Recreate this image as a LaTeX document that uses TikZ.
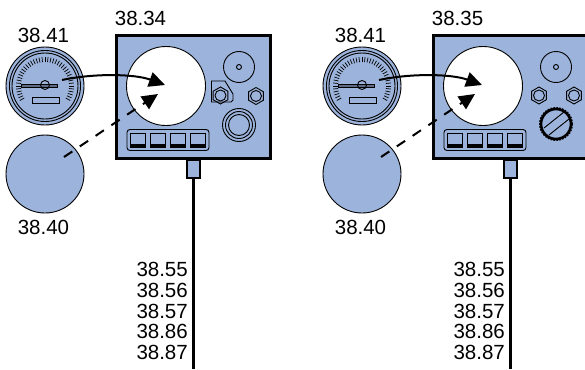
\documentclass[tikz,border=0pt]{standalone}
\usepackage{fontspec}
\setmainfont{Liberation Sans}
\usetikzlibrary{arrows.meta,shapes.geometric}
\definecolor{panelblue}{HTML}{9CB3DB}
\tikzset{
  disc/.style={draw, circle, fill=panelblue, line width=.9pt, inner sep=0pt, minimum size=#1},
  ring/.style={draw, circle, line width=.9pt, inner sep=0pt, minimum size=#1},
  nut/.style={draw, regular polygon, regular polygon sides=6, shape border rotate=30, line width=.9pt, inner sep=0pt, minimum size=17pt},
  lbl/.style={inner sep=0pt, font=\fontsize{20.5}{20.7}\selectfont, align=right},
  flow/.style={-{Triangle[length=16pt,width=15pt]}, line width=2pt},
  swbox/.style={draw, fill=panelblue, line width=.9pt, minimum width=15pt, minimum height=14pt, inner sep=0pt}
}
\begin{document}
\begin{tikzpicture}[x=1pt,y=-1pt]
  \useasboundingbox (0,0) rectangle (585,369);
  \clip (0,0) rectangle (585,369);
  \foreach \side/\dx/\num in {a/0/38.34, b/317/38.35} {
  \begin{scope}[xshift=\dx pt]
    % cable first, the box sits on it
    \node (stub\side) [draw, fill=panelblue, line width=2.4pt, minimum width=13pt, minimum height=18pt, inner sep=0pt] at (193.5,169) {};
    \coordinate (end\side) at (193.5,369);
    \draw[line width=2.8pt] (stub\side.south) -- (end\side);
    \node (box\side) [draw, fill=panelblue, line width=3.6pt, minimum width=154pt, minimum height=123pt, inner sep=0pt] at (193.5,97) {};
    \node (screen\side) [disc=79pt, fill=white] at (166,86) {};
    \node (dial\side) [ring=31pt] at (239,67) {};
    \node (pin\side) [ring=5pt] at (239,67) {};
    % switch strip
    \node (strip\side) [draw, rounded corners=3pt, line width=.9pt, minimum width=82pt, minimum height=21pt, inner sep=0pt] at (168,140) {};
    \foreach \i/\x in {1/138,2/158,3/178,4/197.5} {
      \node (sw\side\i) [swbox] at (\x,140) {};
      \fill (\x-7.5,144) rectangle (\x+7.5,147);
    }
    % gauge
    \node (gauge\side) [disc=78pt] at (45,86) {};
    \node (rima\side) [ring=71pt] at (45,86) {};
    \node (rimb\side) [ring=66pt] at (45,86) {};
    \foreach \a in {-30,-24,...,210}
      \draw[line width=.7pt] (45,86) ++(\a:24pt) -- ++(\a:5pt);
    \node (plate\side) [draw, fill=panelblue, line width=.9pt, minimum width=27pt, minimum height=6pt, inner sep=0pt] at (45.5,100) {};
    \node (needle\side) [draw, fill=panelblue!60!black, line width=.9pt, minimum width=36pt, minimum height=3pt, inner sep=0pt] at (39,85.5) {};
    \node (hub\side) [ring=9pt] at (45,85) {};
    \node (blank\side) [disc=78pt] at (45,174) {};
    % labels
    \node (num\side) [lbl] at (140.5,18) {\num};
    \node (gnum\side) [lbl] at (43.5,35) {38.41};
    \node (bnum\side) [lbl] at (43.5,227) {38.40};
    \node (codes\side) [lbl, anchor=east] at (188,311) {38.55\\38.56\\38.57\\38.86\\38.87};
    % connectors
    \coordinate (src\side) at (62,80);
    \coordinate (aim\side) at (165,85);
    \coordinate (from\side) at (64,157);
    \coordinate (tip\side) at (158,94);
    \draw[flow] (src\side) .. controls (95,73) and (135,74) .. (aim\side);
    \draw[flow, dash pattern=on 10pt off 9pt] (from\side) -- (tip\side);
  \end{scope}
  }
  % left box: bracket, nuts, socket
  \draw[line width=.9pt] (211.5,81) -- (225,81) -- (233,94) -- (233,100) -- (231,102) -- (211.5,102) -- cycle;
  \node (nuta) [nut] at (220.5,95.5) {};
  \node (nutac) [ring=11pt] at (220.5,95.5) {};
  \node (nutb) [nut] at (256,96) {};
  \node (nutbc) [ring=11pt] at (256,96) {};
  \node (sockA) [ring=33pt] at (239,125) {};
  \node (sockB) [ring=27pt] at (239,125) {};
  \node (sockC) [ring=21pt] at (239,125) {};
  % right box: nuts, slotted knob
  \node (nutc) [nut] at (539,95.5) {};
  \node (nutcc) [ring=11pt] at (539,95.5) {};
  \node (nutd) [nut] at (574,95.5) {};
  \node (nutdc) [ring=11pt] at (574,95.5) {};
  \node (knob) [draw, circle, line width=2.6pt, inner sep=0pt, minimum size=30pt] at (556,124) {};
  \draw[line width=1pt, dash pattern=on 1.6pt off 1.4pt] (knob.center) ++(0:16.5pt) arc (0:360:16.5pt);
  \draw[line width=.9pt] (544,128) -- (564,112);
  \draw[line width=.9pt] (549,135) -- (569,119);
\end{tikzpicture}
\end{document}
